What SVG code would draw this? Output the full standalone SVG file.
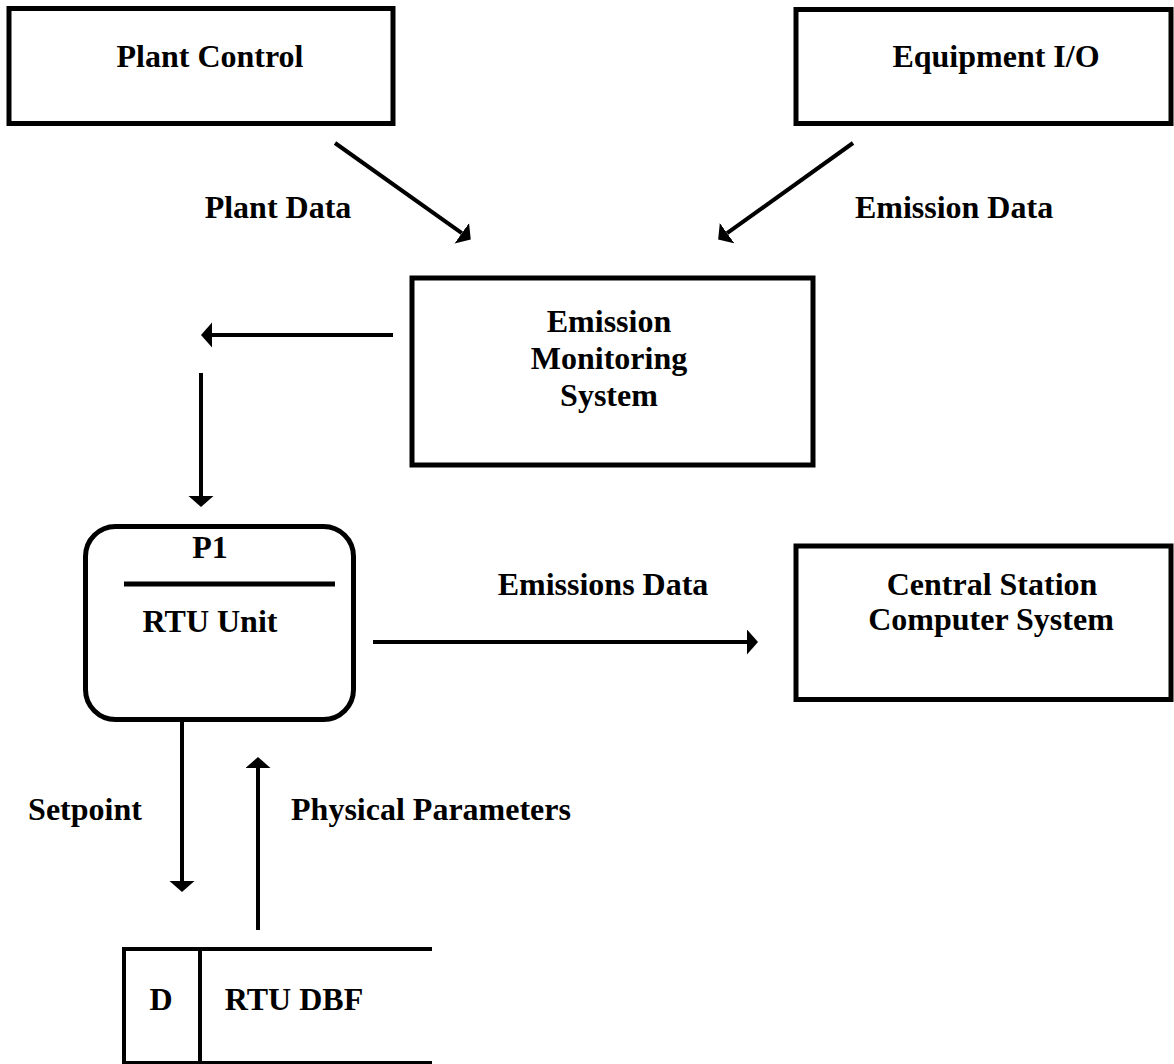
<svg xmlns="http://www.w3.org/2000/svg" width="1174" height="1064" viewBox="0 0 1174 1064">
<style>
.box{fill:#fff;stroke:#000;stroke-width:5}
.ln{fill:none;stroke:#000;stroke-width:4}
.t{font-family:"Liberation Serif","Times New Roman",serif;font-weight:bold;font-size:32px;fill:#000;text-anchor:middle}
</style>
<defs>
<marker id="ah" markerUnits="userSpaceOnUse" markerWidth="12" markerHeight="26" refX="0" refY="12.5" orient="auto">
<path d="M0,0 L11,12.5 L0,25 Z" fill="#000"/>
</marker>
</defs>
<rect width="1174" height="1064" fill="#fff"/>
<g id="plant-control">
<rect class="box" x="9" y="8.5" width="384" height="115"/>
<text class="t" x="210" y="67">Plant Control</text>
</g>
<g id="equipment-io">
<rect class="box" x="796" y="9.5" width="375" height="114"/>
<text class="t" x="996" y="67">Equipment I/O</text>
</g>
<g id="ems">
<rect class="box" x="412" y="278" width="401" height="187"/>
<text class="t" x="609" y="332">Emission</text>
<text class="t" x="609" y="369">Monitoring</text>
<text class="t" x="609" y="406">System</text>
</g>
<g id="rtu-unit">
<rect class="box" x="85.5" y="526.5" width="268" height="193" rx="30" ry="30"/>
<line x1="124" y1="584" x2="335" y2="584" stroke="#000" stroke-width="5"/>
<text class="t" x="210" y="558">P1</text>
<text class="t" x="210" y="632">RTU Unit</text>
</g>
<g id="central-station">
<rect class="box" x="796" y="546" width="375" height="153.5"/>
<text class="t" x="992" y="595">Central Station</text>
<text class="t" x="991" y="630">Computer System</text>
</g>
<g id="rtu-dbf">
<path class="ln" d="M122,949 H432 M124,949 V1066 M124,1063 H432 M200,949 V1066" stroke-width="5"/>
<text class="t" x="161" y="1010">D</text>
<text class="t" x="294" y="1010">RTU DBF</text>
</g>
<g id="connectors">
<line class="ln" x1="335" y1="143" x2="461.8" y2="233.2" marker-end="url(#ah)"/>
<line class="ln" x1="853" y1="143" x2="727.1" y2="233.2" marker-end="url(#ah)"/>
<line class="ln" x1="393" y1="335" x2="212" y2="335" marker-end="url(#ah)"/>
<line class="ln" x1="201" y1="373" x2="201" y2="496" marker-end="url(#ah)"/>
<line class="ln" x1="373" y1="642" x2="747" y2="642" marker-end="url(#ah)"/>
<line class="ln" x1="182" y1="719" x2="182" y2="881" marker-end="url(#ah)"/>
<line class="ln" x1="258" y1="930" x2="258" y2="768" marker-end="url(#ah)"/>
<text class="t" x="278" y="218">Plant Data</text>
<text class="t" x="954" y="218">Emission Data</text>
<text class="t" x="603" y="595">Emissions Data</text>
<text class="t" x="85" y="820">Setpoint</text>
<text class="t" x="431" y="820">Physical Parameters</text>
</g>
</svg>
